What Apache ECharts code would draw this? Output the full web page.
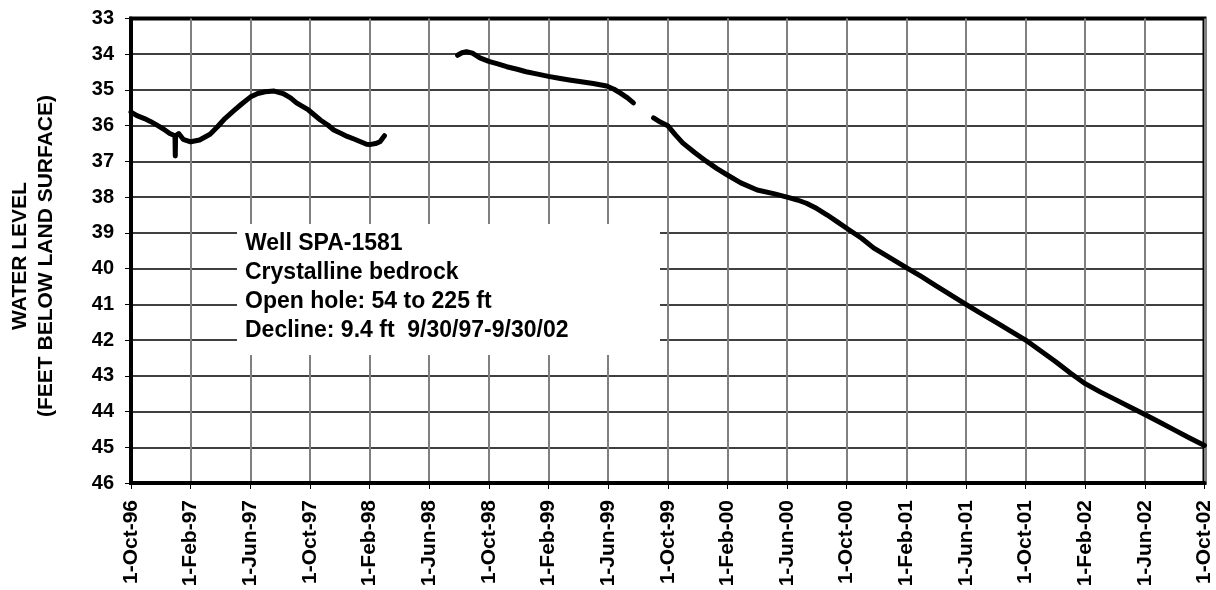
<!DOCTYPE html>
<html>
<head>
<meta charset="utf-8">
<script src="https://cdn.jsdelivr.net/npm/echarts@6/dist/echarts.min.js"></script>
<style>
html,body{margin:0;padding:0;background:#fff;}
#chart{width:1216px;height:590px;}
</style>
</head>
<body>
<div id="chart"></div>
<script>
// X values are months since 1-Oct-96; Y values are water level in feet below land surface.
var seg1Months = [0, 0.4, 0.9, 1.3, 1.8, 2.2, 2.6, 2.95, 2.97, 2.99, 3.2, 3.5, 4.0, 4.6, 5.3, 5.8, 6.3, 6.9, 7.4, 8.0, 8.5, 9.0, 9.6, 10.2, 10.7, 11.1, 11.9, 12.3, 12.7, 13.2, 13.6, 14.1, 14.5, 15.0, 15.4, 15.8, 16.0, 16.4, 16.7, 17.0];
var seg1Levels = [35.62, 35.72, 35.80, 35.88, 36.00, 36.10, 36.22, 36.28, 36.85, 36.28, 36.22, 36.38, 36.45, 36.40, 36.24, 36.03, 35.80, 35.58, 35.40, 35.20, 35.10, 35.05, 35.03, 35.10, 35.22, 35.36, 35.56, 35.70, 35.84, 35.98, 36.12, 36.22, 36.30, 36.38, 36.45, 36.52, 36.53, 36.50, 36.45, 36.28];
var seg2Months = [21.9, 22.2, 22.5, 22.9, 23.4, 24.0, 24.6, 25.2, 25.9, 26.5, 27.2, 28.0, 28.7, 29.4, 30.2, 31.0, 31.9, 32.4, 32.8, 33.3, 33.7];
var seg2Levels = [34.03, 33.96, 33.93, 33.97, 34.10, 34.20, 34.27, 34.35, 34.42, 34.49, 34.55, 34.62, 34.67, 34.72, 34.77, 34.82, 34.89, 34.98, 35.08, 35.22, 35.36];
var seg3Months = [35.05, 35.5, 36.0, 36.5, 37.0, 37.8, 38.6, 39.3, 40.0, 40.9, 42.0, 43.1, 44.0, 44.7, 45.3, 46.0, 46.7, 47.4, 48.0, 49.0, 49.8, 51.0, 52.0, 53.0, 54.0, 55.0, 56.0, 57.0, 58.0, 59.0, 60.0, 61.0, 62.0, 63.0, 64.0, 65.0, 66.0, 67.0, 68.0, 69.0, 70.0, 71.0, 72.0];
var seg3Levels = [35.78, 35.90, 36.00, 36.25, 36.48, 36.75, 37.00, 37.20, 37.38, 37.60, 37.80, 37.90, 38.00, 38.08, 38.17, 38.32, 38.50, 38.70, 38.87, 39.15, 39.42, 39.72, 39.97, 40.22, 40.48, 40.74, 41.00, 41.25, 41.50, 41.75, 42.00, 42.30, 42.60, 42.92, 43.22, 43.45, 43.66, 43.87, 44.08, 44.30, 44.52, 44.74, 44.95];
var xTickLabels = ['1-Oct-96','1-Feb-97','1-Jun-97','1-Oct-97','1-Feb-98','1-Jun-98','1-Oct-98','1-Feb-99','1-Jun-99','1-Oct-99','1-Feb-00','1-Jun-00','1-Oct-00','1-Feb-01','1-Jun-01','1-Oct-01','1-Feb-02','1-Jun-02','1-Oct-02'];
var yTitleLines = ['WATER LEVEL', '(FEET BELOW LAND SURFACE)'];
var noteLines = ['Well SPA-1581', 'Crystalline bedrock', 'Open hole: 54 to 225 ft', 'Decline: 9.4 ft  9/30/97-9/30/02'];

function pairs(xs, ys) { return xs.map(function (x, i) { return [x, ys[i]]; }); }

var FONT = '"Liberation Sans", Arial, Helvetica, sans-serif';
var chart = echarts.init(document.getElementById('chart'), null, {renderer: 'canvas'});

var lineStyle = {color: '#000', width: 5, join: 'round', cap: 'round'};
function seg(data) {
  return {type: 'line', data: data, showSymbol: false, symbol: 'none', lineStyle: lineStyle, z: 5, silent: true};
}

chart.setOption({
  animation: false,
  backgroundColor: '#fff',
  grid: {left: 131, top: 18.5, right: 11.5, bottom: 107, show: true, borderColor: '#000', borderWidth: 4, backgroundColor: '#fff'},
  xAxis: {
    type: 'value', min: 0, max: 72, interval: 4,
    axisLine: {show: true, lineStyle: {color: '#000', width: 4}},
    axisTick: {show: true, length: 6, lineStyle: {color: '#000', width: 1}},
    splitLine: {show: true, lineStyle: {color: '#808080', width: 2}},
    axisLabel: {
      rotate: 90, margin: 17, color: '#000', fontFamily: FONT, fontWeight: 'bold', fontSize: 21,
      formatter: function (v) { return xTickLabels[Math.round(v / 4)] || ''; }
    }
  },
  yAxis: {
    type: 'value', inverse: true, min: 33, max: 46, interval: 1,
    axisLine: {show: true, lineStyle: {color: '#000', width: 4}},
    axisTick: {show: true, length: 6, lineStyle: {color: '#000', width: 1}},
    splitLine: {show: true, lineStyle: {color: '#000', width: 1.5}},
    axisLabel: {margin: 17, color: '#000', fontFamily: FONT, fontWeight: 'bold', fontSize: 20}
  },
  graphic: [
    {
      type: 'text', x: 33, y: 256, rotation: Math.PI / 2, z: 100,
      style: {text: yTitleLines.join('\n'), fill: '#000', font: 'bold 21px ' + FONT, align: 'center', verticalAlign: 'middle', lineHeight: 26}
    },
    {
      type: 'rect', shape: {x: 237, y: 224, width: 423, height: 131}, z: 100,
      style: {fill: '#fff', stroke: null}
    },
    {
      type: 'text', x: 245, y: 229, z: 101,
      style: {text: noteLines.join('\n'), fill: '#000', font: 'bold 23px ' + FONT, align: 'left', verticalAlign: 'top', lineHeight: 29}
    }
  ],
  series: [
    seg(pairs(seg1Months, seg1Levels)),
    seg(pairs(seg2Months, seg2Levels)),
    seg(pairs(seg3Months, seg3Levels))
  ]
});
</script>
</body>
</html>
